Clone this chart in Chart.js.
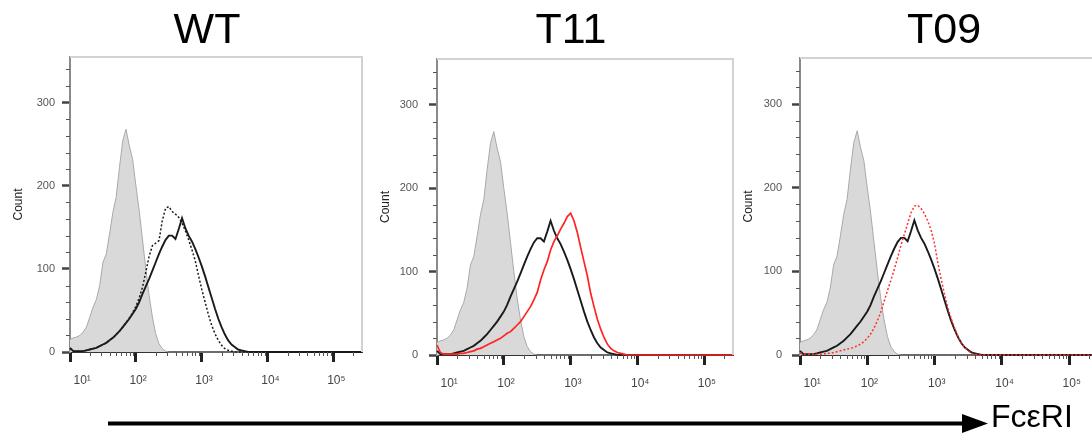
<!DOCTYPE html>
<html>
<head>
<meta charset="utf-8">
<script src="https://cdn.jsdelivr.net/npm/chart.js@4.4.1/dist/chart.umd.min.js"></script>
<style>
html,body{margin:0;padding:0;background:#fff;width:1092px;height:434px;overflow:hidden;position:relative;}
canvas.panel{position:absolute;top:0;}
#arrow{position:absolute;left:0;top:0;}
#fceri{position:absolute;left:991px;top:400px;font-family:'Liberation Sans',Arial,sans-serif;font-size:32px;line-height:32px;color:#000;white-space:nowrap;}
</style>
</head>
<body>
<canvas id="c1" class="panel"></canvas>
<canvas id="c2" class="panel"></canvas>
<canvas id="c3" class="panel"></canvas>
<svg id="arrow" width="1092" height="434">
  <line x1="108" y1="423.5" x2="966" y2="423.5" stroke="#000" stroke-width="4"/>
  <polygon points="962,414 988,423.5 962,433" fill="#000"/>
</svg>
<div id="fceri">FcεRI</div>
<script>
// ---- data (log10 fluorescence bin centres, counts) ----
const bins = [1.00,1.05,1.10,1.15,1.20,1.25,1.30,1.35,1.40,1.45,1.50,1.55,1.60,1.65,1.70,1.75,1.80,1.85,1.90,1.95,
              2.00,2.05,2.10,2.15,2.20,2.25,2.30,2.35,2.40,2.45,2.50,2.55,2.60,2.65,2.70,2.75,2.80,2.85,2.90,2.95,
              3.00,3.05,3.10,3.15,3.20,3.25,3.30,3.35,3.40,3.45,3.50,3.55,3.60,3.65,3.70,3.75,3.80,3.85,3.90,5.45];
const isotypeCounts = [15,17,18,20,24,30,42,54,63,80,108,118,142,168,186,222,254,268,248,232,
                       200,170,135,100,68,42,22,10,4,1,0,0,0,0,0,0,0,0,0,0,
                       0,0,0,0,0,0,0,0,0,0,0,0,0,0,0,0,0,0,0,0];
const wtCounts      = [5,1,1,1,1,2,3,4,5,7,9,11,14,17,21,25,30,35,40,46,
                       52,60,70,79,88,98,108,118,127,135,140,140,136,148,161,149,140,133,124,114,
                       103,91,78,65,52,40,30,21,14,9,6,3,2,1,0,0,0,0,0,0];
const wt2Counts     = [4,1,1,1,1,2,3,4,5,7,9,11,14,17,21,25,30,35,41,47,
                       55,65,78,96,115,128,131,134,158,173,175,169,166,162,155,146,135,123,110,92,
                       75,60,45,32,22,14,8,4,2,1,0,0,0,0,0,0,0,0,0,0];
const t11Counts     = [12,3,1,1,1,1,1,2,2,3,4,5,7,8,10,12,14,16,18,20,
                       23,26,28,32,36,40,46,52,58,66,75,90,102,112,126,136,143,151,158,166,
                       170,161,147,129,112,95,74,58,43,31,21,13,8,5,3,2,1,0,0,0];
const t09Counts     = [2,1,1,1,1,1,1,1,2,2,3,4,5,6,7,8,9,11,13,16,
                       20,25,32,41,51,64,77,89,102,116,131,144,157,170,178,179,175,169,160,149,
                       133,110,90,72,56,43,32,22,14,9,5,2,1,0,0,0,0,0,0,0];
const panelTitles = ['WT','T11','T09'];
const xTickDecades = [1,2,3,4,5];
const xTickLabels = ['   10¹','10²','10³','10⁴','10⁵'];
const yTickValues = [0,100,200,300];
const yMinorStep = 20;
const xMin = 1.0, xMax = 5.43, yMin = 0, yMax = 355;

// ---- styles / layout ----
const FONT = "'Liberation Sans','DejaVu Sans',Arial,sans-serif";
const styles = {
  isotype: {borderColor:'#a9a9a9', borderWidth:1, backgroundColor:'#d9d9d9', fill:'origin'},
  wt:      {borderColor:'#1a1a1a', borderWidth:1.9, fill:false},
  wt2:     {borderColor:'#1a1a1a', borderWidth:1.5, borderDash:[2,2], fill:false},
  t11:     {borderColor:'#ff2323', borderWidth:1.7, fill:false},
  t09:     {borderColor:'#ff3030', borderWidth:1.5, borderDash:[2,2], fill:false}
};
const panels = [
  {id:'c1', left:10,  width:394, height:392, titlePadBottom:5, yWidth:60, y2Width:42, yLabelPad:7,  series:[['wt2',wt2Counts],['wt',wtCounts],['isotype',isotypeCounts]]},
  {id:'c2', left:377, width:388, height:395, titlePadBottom:7, yWidth:60, y2Width:32, yLabelPad:11, series:[['t11',t11Counts],['wt',wtCounts],['isotype',isotypeCounts]]},
  {id:'c3', left:740, width:408, height:395, titlePadBottom:6, yWidth:60, y2Width:50, yLabelPad:10, series:[['t09',t09Counts],['wt',wtCounts],['isotype',isotypeCounts]]}
];

const framePlugin = {
  id:'frame',
  afterDraw(chart){
    const {ctx, chartArea:a} = chart;
    ctx.save();
    ctx.strokeStyle = '#d2d2d2';
    ctx.lineWidth = 2;
    ctx.beginPath();
    ctx.moveTo(a.left, a.top);
    ctx.lineTo(a.right, a.top);
    ctx.lineTo(a.right, a.bottom);
    ctx.stroke();
    ctx.restore();
  }
};
const minorTickPlugin = {
  id:'minorTicks',
  afterDraw(chart){
    const {ctx, chartArea:a, scales} = chart;
    const x = scales.x, y = scales.y;
    ctx.save();
    ctx.strokeStyle = '#555';
    ctx.lineWidth = 1;
    ctx.beginPath();
    for (const n of xTickDecades) {
      for (let k = 2; k <= 9; k++) {
        const v = n + Math.log10(k);
        if (v > x.max) continue;
        const px = Math.round(x.getPixelForValue(v)) + 0.5;
        ctx.moveTo(px, a.bottom);
        ctx.lineTo(px, a.bottom + 4);
      }
    }
    for (let v = yMinorStep; v < yMax; v += yMinorStep) {
      if (yTickValues.includes(v)) continue;
      const py = Math.round(y.getPixelForValue(v)) + 0.5;
      ctx.moveTo(a.left - 4, py);
      ctx.lineTo(a.left, py);
    }
    ctx.stroke();
    ctx.restore();
  }
};

panels.forEach((p, i) => {
  const cv = document.getElementById(p.id);
  cv.width = p.width; cv.height = p.height;
  cv.style.left = p.left + 'px';
  cv.style.width = p.width + 'px'; cv.style.height = p.height + 'px';
  const datasets = p.series.map(([key, arr]) => Object.assign({
    label:key,
    data: bins.map((b, j) => ({x:b, y:arr[j]})),
    pointRadius:0, tension:0,
    clip:{left:2, top:0, right:0, bottom:3}
  }, styles[key]));
  new Chart(cv, {
    type:'line',
    data:{datasets},
    plugins:[framePlugin, minorTickPlugin],
    options:{
      responsive:false, animation:false, devicePixelRatio:1,
      layout:{padding:0},
      plugins:{
        legend:{display:false}, tooltip:{enabled:false},
        title:{display:true, text:panelTitles[i], color:'#000',
               font:{family:FONT, size:43, weight:'normal', lineHeight:1},
               padding:{top:10, bottom:p.titlePadBottom - 1}}
      },
      scales:{
        x:{type:'linear', min:xMin, max:xMax,
           afterBuildTicks:s => { s.ticks = xTickDecades.map(v => ({value:v})); },
           ticks:{autoSkip:false, maxRotation:0, color:'#444', padding:11, align:'start', labelOffset:-6.5,
                  font:{family:FONT, size:12},
                  callback:v => xTickLabels[xTickDecades.indexOf(v)]},
           grid:{display:true, drawOnChartArea:false, drawTicks:true, tickLength:10, tickWidth:3, tickColor:'#222'},
           border:{display:true, color:'#333', width:2},
           afterFit:s => { s.height = 40; }
        },
        y:{type:'linear', min:yMin, max:yMax,
           afterBuildTicks:s => { s.ticks = yTickValues.map(v => ({value:v})); },
           ticks:{color:'#555', padding:p.yLabelPad, font:{family:FONT, size:11}},
           grid:{display:true, drawOnChartArea:false, drawTicks:true, tickLength:8, tickWidth:2.5, tickColor:'#444'},
           border:{display:true, color:'#8a8a8a', width:2},
           title:{display:true, text:'Count', color:'#222', font:{family:FONT, size:12}, padding:{top:1, bottom:0}},
           afterFit:s => { s.width = p.yWidth; }
        },
        y2:{type:'linear', position:'right', display:true,
            grid:{display:false}, ticks:{display:false}, border:{display:false},
            afterFit:s => { s.width = p.y2Width; }
        }
      }
    }
  });
});
</script>
</body>
</html>
